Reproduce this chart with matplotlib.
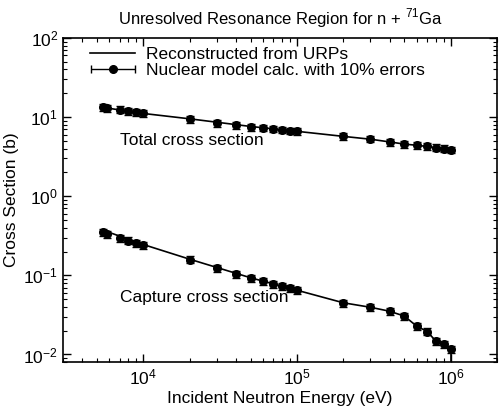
import matplotlib
matplotlib.use("Agg")
import matplotlib.pyplot as plt
from matplotlib.legend_handler import HandlerErrorbar
import numpy as np

plt.rcParams['font.family'] = ['Liberation Sans', 'DejaVu Sans']
plt.rcParams['mathtext.fontset'] = 'custom'
plt.rcParams['mathtext.rm'] = 'Liberation Sans'

energy = [5.5e3, 5.8e3, 7e3, 8e3, 9e3, 1e4, 2e4, 3e4, 4e4, 5e4, 6e4, 7e4, 8e4, 9e4, 1e5,
          2e5, 3e5, 4e5, 5e5, 6e5, 7e5, 8e5, 9e5, 1e6]
total_calc = [13.4, 12.9, 12.4, 11.9, 11.5, 11.1, 9.4, 8.3, 7.9, 7.5, 7.3, 7.1, 6.9, 6.7, 6.6,
              5.7, 5.3, 4.8, 4.55, 4.4, 4.25, 4.1, 4.0, 3.85]
capture_calc = [0.35, 0.33, 0.295, 0.275, 0.255, 0.24, 0.158, 0.123, 0.103, 0.092, 0.084,
                0.077, 0.0726, 0.0685, 0.0646, 0.0443, 0.0394, 0.035, 0.0303, 0.0226,
                0.0195, 0.0146, 0.0134, 0.0116]

curve_energy = [5.5e3, 1e4, 2e4, 5e4, 1e5, 2e5, 3e5, 4e5, 5e5, 6e5, 7e5, 8e5, 9e5, 1e6]
total_curve = [13.2, 11.1, 9.5, 7.6, 6.6, 5.7, 5.25, 4.85, 4.55, 4.4, 4.25, 4.1, 4.0, 3.85]
capture_curve = [0.37, 0.245, 0.16, 0.093, 0.0648, 0.045, 0.0395, 0.0352, 0.0305, 0.0228,
                 0.0196, 0.0148, 0.0134, 0.0118]
capture_drop_energy = [1e6, 1e6]
capture_drop = [0.0118, 0.001]

rel_err = 0.10

fig = plt.figure(figsize=(5.0, 4.12), dpi=100)
ax = fig.add_axes([0.126, 0.121, 0.868, 0.787])

line_handle, = ax.plot(curve_energy, total_curve, color='black', lw=1.2)
ax.plot(curve_energy, capture_curve, color='black', lw=1.2)
ax.plot(capture_drop_energy, capture_drop, color='black', lw=1.2)

t = np.array(total_calc)
c = np.array(capture_calc)
eb_kw = dict(fmt='o', color='black', ms=5.5, capsize=3, elinewidth=1.0, capthick=1.0)
ax.errorbar(energy, t, yerr=rel_err * t, **eb_kw)
ax.errorbar(energy, c, yerr=rel_err * c, **eb_kw)

# legend proxy: horizontal error bar
proxy = ax.errorbar([np.nan], [np.nan], xerr=[1.0], **eb_kw)

ax.set_xscale('log')
ax.set_yscale('log')
ax.set_xlim(3e3, 2e6)
ax.set_ylim(0.008, 100)

ax.tick_params(which='both', direction='in', top=True, right=True, labelsize=12.5)
ax.tick_params(which='major', length=6, width=1)
ax.tick_params(which='minor', length=3, width=0.8)
for s in ax.spines.values():
    s.set_linewidth(1.2)

ax.set_xlabel('Incident Neutron Energy (eV)', fontsize=12.5, labelpad=3)
ax.set_ylabel('Cross Section (b)', fontsize=12.5, labelpad=3)
ax.set_title('Unresolved Resonance Region for n + $^{71}$Ga', fontsize=12, pad=10)

ax.text(1e4 * 10 ** (-0.15), 10 ** (2 - (140 - 38) / 79), 'Total cross section',
        fontsize=12.5, va='center')
ax.text(1e4 * 10 ** (-0.15), 10 ** (2 - (297 - 38) / 79), 'Capture cross section',
        fontsize=12.5, va='center')

leg = ax.legend([line_handle, proxy],
                ['Reconstructed from URPs', 'Nuclear model calc. with 10% errors'],
                loc='upper left', frameon=False, fontsize=12.5, handlelength=2.6,
                borderaxespad=0.3, handletextpad=0.6, labelspacing=0.05,
                bbox_to_anchor=(0.035, 1.01),
                handler_map={type(proxy): HandlerErrorbar(xerr_size=1.25)})

fig.savefig('out.png', dpi=100)
